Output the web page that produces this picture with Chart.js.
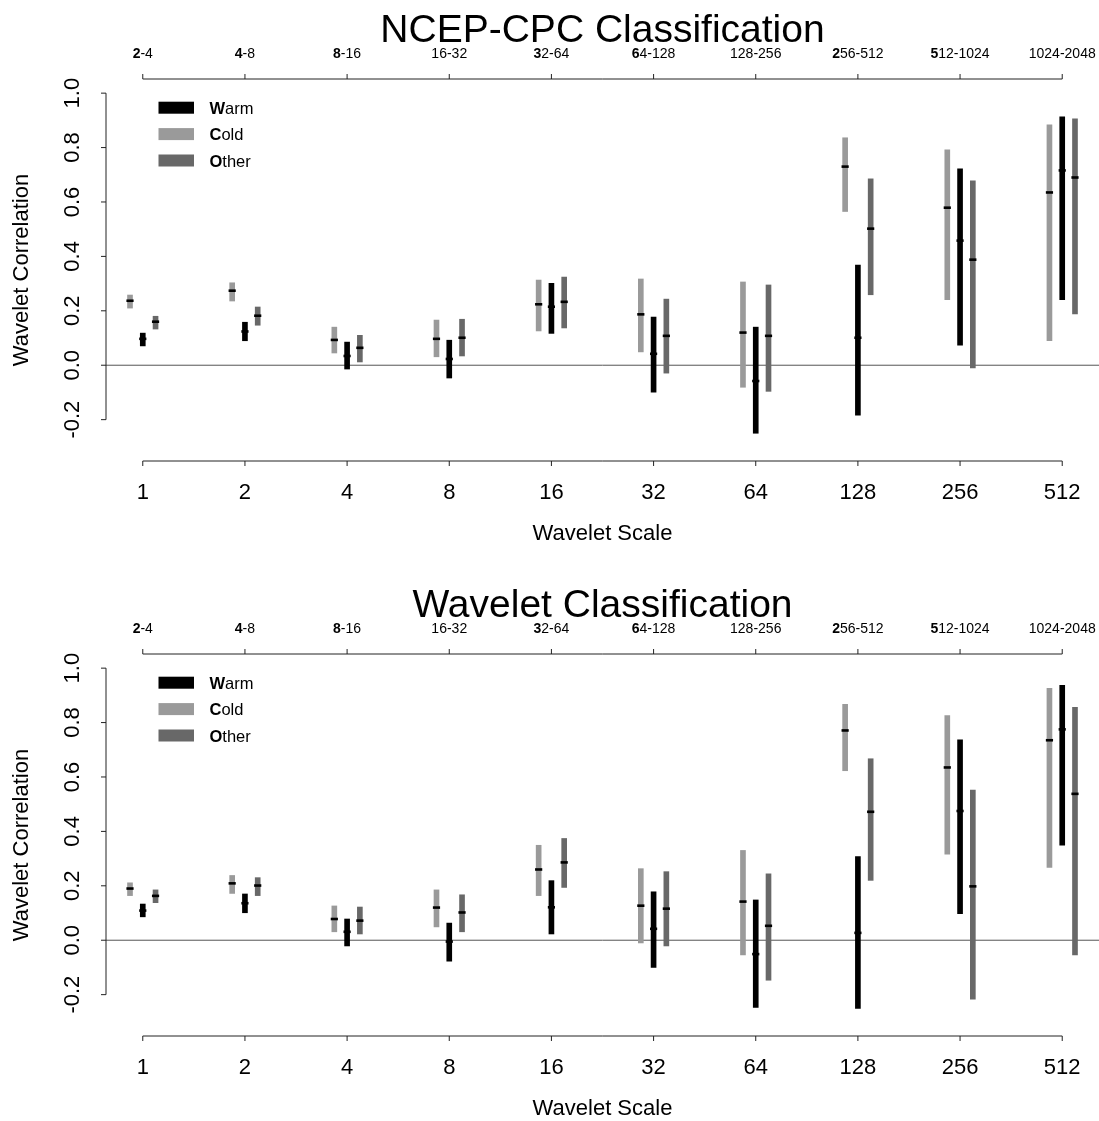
<!DOCTYPE html>
<html>
<head>
<meta charset="utf-8">
<script src="https://cdn.jsdelivr.net/npm/chart.js@4"></script>
<style>
  html, body { margin: 0; padding: 0; background: #fff; }
  #wrap { position: relative; width: 1099px; height: 1121px; }
  canvas { position: absolute; left: 0; }
</style>
</head>
<body>
<div id="wrap">
  <canvas id="ncepChart" width="1099" height="575" style="top:0"></canvas>
  <canvas id="waveChart" width="1099" height="546" style="top:575px"></canvas>
</div>
<script>
// wavelet scales (bottom axis) and the periods they cover (top axis)
const waveScales = ["1", "2", "4", "8", "16", "32", "64", "128", "256", "512"];
const periodBands = ["2-4", "4-8", "8-16", "16-32", "32-64", "64-128", "128-256", "256-512", "512-1024", "1024-2048"];
const bandBoldFirst = [true, true, true, false, true, true, false, true, true, false];
const yTicks = [-0.2, 0.0, 0.2, 0.4, 0.6, 0.8, 1.0];

const classNames = ["Warm", "Cold", "Other"];

// NCEP-CPC classification: estimate, lower and upper limit
const ncepWarmEst = [0.097, 0.124, 0.034, 0.023, 0.215, 0.042, -0.058, 0.101, 0.458, 0.716];
const ncepWarmLo  = [0.071, 0.090, -0.014, -0.047, 0.117, -0.099, -0.250, -0.184, 0.074, 0.241];
const ncepWarmHi  = [0.118, 0.158, 0.085, 0.092, 0.301, 0.177, 0.140, 0.368, 0.722, 0.913];
const ncepColdEst = [0.237, 0.274, 0.093, 0.097, 0.224, 0.187, 0.120, 0.730, 0.579, 0.635];
const ncepColdLo  = [0.210, 0.236, 0.045, 0.031, 0.126, 0.049, -0.081, 0.565, 0.241, 0.090];
const ncepColdHi  = [0.258, 0.303, 0.140, 0.166, 0.313, 0.317, 0.306, 0.836, 0.792, 0.884];
const ncepOtherEst = [0.160, 0.182, 0.064, 0.101, 0.233, 0.108, 0.108, 0.502, 0.388, 0.690];
const ncepOtherLo  = [0.133, 0.147, 0.012, 0.034, 0.137, -0.029, -0.096, 0.259, -0.010, 0.189];
const ncepOtherHi  = [0.180, 0.214, 0.110, 0.169, 0.324, 0.243, 0.295, 0.685, 0.678, 0.906];

// Wavelet classification
const waveWarmEst = [0.109, 0.136, 0.031, -0.005, 0.121, 0.042, -0.051, 0.027, 0.475, 0.775];
const waveWarmLo  = [0.086, 0.101, -0.021, -0.077, 0.023, -0.100, -0.247, -0.251, 0.098, 0.349];
const waveWarmHi  = [0.133, 0.170, 0.078, 0.063, 0.219, 0.178, 0.148, 0.307, 0.737, 0.937];
const waveColdEst = [0.190, 0.209, 0.078, 0.120, 0.260, 0.127, 0.142, 0.771, 0.635, 0.735];
const waveColdLo  = [0.164, 0.172, 0.031, 0.049, 0.164, -0.010, -0.054, 0.623, 0.316, 0.268];
const waveColdHi  = [0.211, 0.238, 0.126, 0.185, 0.349, 0.263, 0.330, 0.867, 0.826, 0.926];
const waveOtherEst = [0.163, 0.201, 0.072, 0.102, 0.286, 0.116, 0.053, 0.472, 0.198, 0.538];
const waveOtherLo  = [0.138, 0.164, 0.023, 0.031, 0.194, -0.021, -0.147, 0.220, -0.217, -0.054];
const waveOtherHi  = [0.185, 0.230, 0.122, 0.167, 0.374, 0.252, 0.244, 0.667, 0.552, 0.856];

const classColors = ["#000000", "#9a9a9a", "#686868"];
const classOffsets = [0, -0.125, 0.125];
const FONT = '"Liberation Sans", Arial, Helvetica, sans-serif';

function font(size, bold) {
  return (bold ? "bold " : "") + size + "px " + FONT;
}

// text with the first character in bold, like the original figure
function drawRich(ctx, text, x, y, size, boldFirst, align) {
  const first = text[0], rest = text.slice(1);
  ctx.font = font(size, boldFirst);
  const w1 = ctx.measureText(first).width;
  ctx.font = font(size, false);
  const w2 = ctx.measureText(rest).width;
  const start = align === "center" ? x - (w1 + w2) / 2 : x;
  ctx.textAlign = "left";
  ctx.font = font(size, boldFirst);
  ctx.fillText(first, start, y);
  ctx.font = font(size, false);
  ctx.fillText(rest, start + w1, y);
}

function seg(ctx, x1, y1, x2, y2) {
  ctx.beginPath();
  ctx.moveTo(x1, y1);
  ctx.lineTo(x2, y2);
  ctx.stroke();
}

// R style axes, titles and legend
const rAxes = {
  id: "rAxes",
  beforeDatasetsDraw(chart) {
    const { ctx, chartArea: a, scales: { y } } = chart;
    const y0 = y.getPixelForValue(0);
    ctx.save();
    ctx.strokeStyle = "#555";
    ctx.lineWidth = 1;
    seg(ctx, a.left, y0, a.right, y0);
    ctx.restore();
  },
  afterDraw(chart, args, opts) {
    const { ctx, chartArea: a, scales: { x, y } } = chart;
    ctx.save();
    ctx.strokeStyle = "#222";
    ctx.fillStyle = "#000";
    ctx.lineWidth = 1;
    ctx.textBaseline = "alphabetic";

    // left axis
    const yTop = y.getPixelForValue(yTicks[yTicks.length - 1]);
    const yBot = y.getPixelForValue(yTicks[0]);
    seg(ctx, a.left, yTop, a.left, yBot);
    yTicks.forEach(v => {
      const py = y.getPixelForValue(v);
      seg(ctx, a.left - 5, py, a.left, py);
      ctx.save();
      ctx.translate(a.left - 27.5, py);
      ctx.rotate(-Math.PI / 2);
      ctx.textAlign = "center";
      ctx.font = font(22);
      ctx.fillText(v.toFixed(1), 0, 0);
      ctx.restore();
    });
    ctx.save();
    ctx.translate(28, (a.top + a.bottom) / 2);
    ctx.rotate(-Math.PI / 2);
    ctx.textAlign = "center";
    ctx.font = font(22);
    ctx.fillText("Wavelet Correlation", 0, 0);
    ctx.restore();

    // bottom axis
    const xFirst = x.getPixelForValue(0);
    const xLast = x.getPixelForValue(waveScales.length - 1);
    seg(ctx, xFirst, a.bottom, xLast, a.bottom);
    waveScales.forEach((s, i) => {
      const px = x.getPixelForValue(i);
      seg(ctx, px, a.bottom, px, a.bottom + 5);
      ctx.textAlign = "center";
      ctx.font = font(22);
      ctx.fillText(s, px, a.bottom + 37.5);
    });
    ctx.textAlign = "center";
    ctx.font = font(22);
    ctx.fillText("Wavelet Scale", (a.left + a.right) / 2, a.bottom + 78.5);

    // top axis
    seg(ctx, xFirst, a.top, xLast, a.top);
    periodBands.forEach((b, i) => {
      const px = x.getPixelForValue(i);
      seg(ctx, px, a.top, px, a.top - 5);
      drawRich(ctx, b, px, a.top - 21, 14, bandBoldFirst[i], "center");
    });

    // title
    ctx.textAlign = "center";
    ctx.font = font(39);
    ctx.fillText(opts.title, (a.left + a.right) / 2, a.top - 37.5);

    // legend
    classNames.forEach((name, k) => {
      const top = 101.7 + k * 26.4;
      ctx.fillStyle = classColors[k];
      ctx.fillRect(158.5, top, 35.5, 12);
      ctx.fillStyle = "#000";
      drawRich(ctx, name, 209.5, top + 12, 16.5, true, "left");
    });
    ctx.restore();
  }
};

function buildDatasets(lo, hi, est) {
  const sets = [];
  classNames.forEach((name, k) => {
    sets.push({
      type: "bar",
      label: name,
      data: waveScales.map((s, i) => ({ x: i + classOffsets[k], y: [lo[k][i], hi[k][i]] })),
      backgroundColor: classColors[k],
      borderWidth: 0,
      barThickness: 5,
      grouped: false,
      order: 2
    });
  });
  classNames.forEach((name, k) => {
    sets.push({
      type: "scatter",
      label: name + " estimate",
      data: waveScales.map((s, i) => ({ x: i + classOffsets[k], y: est[k][i] })),
      pointStyle: "line",
      pointRadius: 3.6,
      pointBorderWidth: 2.6,
      borderColor: "#000",
      backgroundColor: "#000",
      showLine: false,
      order: 1
    });
  });
  return sets;
}

function makeChart(id, title, lo, hi, est, padBottom) {
  return new Chart(document.getElementById(id), {
    type: "bar",
    data: { datasets: buildDatasets(lo, hi, est) },
    options: {
      responsive: false,
      animation: false,
      events: [],
      layout: { autoPadding: false, padding: { left: 106, right: 0, top: 79, bottom: padBottom } },
      scales: {
        x: { type: "linear", min: -0.36, max: 9.36, offset: false, display: false },
        y: { type: "linear", min: -0.352, max: 1.052, display: false }
      },
      plugins: {
        legend: { display: false },
        tooltip: { enabled: false },
        rAxes: { title: title }
      }
    },
    plugins: [rAxes]
  });
}

makeChart("ncepChart", "NCEP-CPC Classification",
  [ncepWarmLo, ncepColdLo, ncepOtherLo],
  [ncepWarmHi, ncepColdHi, ncepOtherHi],
  [ncepWarmEst, ncepColdEst, ncepOtherEst], 114);

makeChart("waveChart", "Wavelet Classification",
  [waveWarmLo, waveColdLo, waveOtherLo],
  [waveWarmHi, waveColdHi, waveOtherHi],
  [waveWarmEst, waveColdEst, waveOtherEst], 85);
</script>
</body>
</html>
